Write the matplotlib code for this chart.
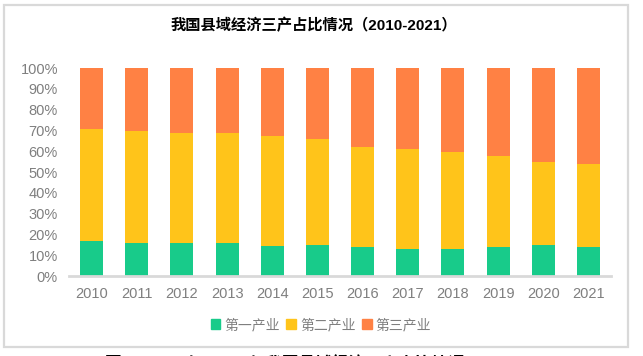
import numpy as np
import matplotlib
matplotlib.use('Agg')
import matplotlib.pyplot as plt
from matplotlib.patches import Patch, Rectangle

plt.rcParams['font.family'] = ['Liberation Sans', 'Noto Sans CJK SC', 'DejaVu Sans']

# data (percent of county GDP)
years = ['2010', '2011', '2012', '2013', '2014', '2015',
         '2016', '2017', '2018', '2019', '2020', '2021']
primary = [16.8, 15.9, 15.9, 15.9, 14.4, 14.9, 13.9, 13.0, 13.0, 13.9, 14.9, 13.9]
tertiary = [29.3, 30.3, 31.3, 31.3, 32.7, 34.1, 38.0, 38.9, 40.4, 42.3, 45.2, 46.2]
secondary = [100 - a - c for a, c in zip(primary, tertiary)]

series_names = ['第一产业', '第二产业', '第三产业']
colors = ['#18CB8A', '#FFC41A', '#FF8144']
grey = '#7F7F7F'

W, H = 643, 356
fig = plt.figure(figsize=(W / 100, H / 100), dpi=100)

# outer frame
fig.patches.append(Rectangle((4 / W, 1 - 347 / H), 624 / W, 342 / H,
                             transform=fig.transFigure, fill=False,
                             edgecolor='#D9D9D9', linewidth=1.6))

ax = fig.add_axes([69 / W, 1 - 276 / H, 542 / W, 208 / H])
x = np.arange(len(years))
bw = 0.51
ax.bar(x, primary, bw, color=colors[0], zorder=2)
ax.bar(x, secondary, bw, bottom=primary, color=colors[1], zorder=2)
bottom3 = [a + b for a, b in zip(primary, secondary)]
ax.bar(x, tertiary, bw, bottom=bottom3, color=colors[2], zorder=2)

ax.set_xlim(-0.5, len(years) - 0.5)
ax.set_ylim(0, 100)
ax.set_yticks(np.arange(0, 101, 10))
ax.set_yticklabels([f'{v}%' for v in range(0, 101, 10)])
ax.set_xticks(x)
ax.set_xticklabels(years)
ax.tick_params(axis='both', length=0, labelsize=10.5, labelcolor=grey)
ax.tick_params(axis='y', pad=8)
ax.tick_params(axis='x', pad=8)
for s in ['top', 'right', 'left']:
    ax.spines[s].set_visible(False)
ax.spines['bottom'].set_color('#D9D9D9')
ax.spines['bottom'].set_linewidth(2)
ax.spines['bottom'].set_zorder(3)

fig.text(313.5 / W, 1 - 26 / H, '我国县域经济三产占比情况（2010-2021）',
         ha='center', va='center', fontsize=11, fontweight='bold', color='black')

handles = [Patch(color=c) for c in colors]
fig.legend(handles, series_names, loc='center', ncol=3,
           bbox_to_anchor=(321 / W, 1 - 325 / H), frameon=False,
           labelcolor=grey, handlelength=0.7, handleheight=0.7,
           handletextpad=0.3, columnspacing=0.45,
           prop={'family': ['Noto Sans CJK SC'], 'size': 10})

# caption of the source page, only its top edge shows at the bottom
fig.text(105 / W, 1 - 355.3 / H, '图2：2010年-2021年我国县域经济三产占比情况',
         ha='left', va='top', fontsize=12, fontweight='bold', color='black',
         family=['Noto Sans CJK SC'])

fig.savefig('out.png', dpi=100)
